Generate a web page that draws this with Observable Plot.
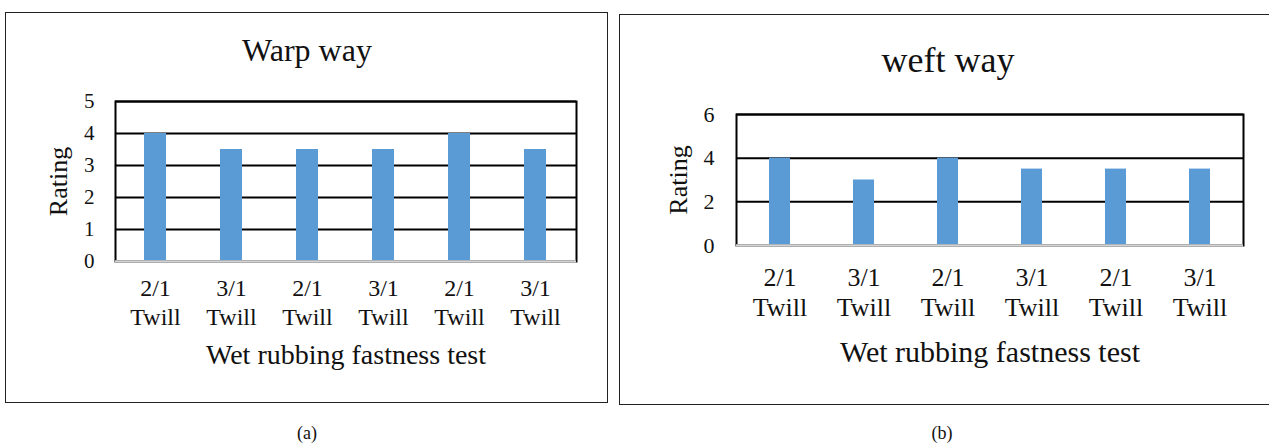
<!DOCTYPE html>
<html>
<head>
<meta charset="utf-8">
<script src="https://cdn.jsdelivr.net/npm/d3@7"></script>
<script src="https://cdn.jsdelivr.net/npm/@observablehq/plot@0.6"></script>
<style>
  html, body { margin: 0; padding: 0; background: #fff; }
  #page { position: relative; width: 1269px; height: 445px; overflow: hidden; font-family: "Liberation Serif", "DejaVu Serif", serif; }
  .border { position: absolute; border: 1.6px solid #222; box-sizing: border-box; }
  .panel { position: absolute; top: 0; }
  .cap { position: absolute; font-size: 18px; transform: translate(-50%, -50%); color: #111; }
</style>
</head>
<body>
<div id="page"></div>
<script>
// ---- data ----
const categories = ["2/1 Twill", "3/1 Twill", "2/1 Twill", "3/1 Twill", "2/1 Twill", "3/1 Twill"];
const warpValues = [4, 3.5, 3.5, 3.5, 4, 3.5];
const weftValues = [4, 3, 4, 3.5, 3.5, 3.5];
const warpTicks = [0, 1, 2, 3, 4, 5];
const weftTicks = [0, 2, 4, 6];
const warpTitle = "Warp way";
const weftTitle = "weft way";
const xLabel = "Wet rubbing fastness test";
const yLabel = "Rating";

const BAR = "#5B9BD5";
const FONT = "Liberation Serif, DejaVu Serif, serif";

function makePanel(cfg) {
  const data = cfg.values.map((v, i) => ({i, v}));
  return Plot.plot({
    width: cfg.width,
    height: 445,
    marginLeft: cfg.ml, marginRight: cfg.mr, marginTop: cfg.mt, marginBottom: cfg.mb,
    style: {fontFamily: FONT, background: "transparent", color: "#111", overflow: "visible"},
    x: {domain: d3.range(categories.length), paddingInner: cfg.pad, paddingOuter: cfg.pad / 2},
    y: {domain: [0, d3.max(cfg.ticks)]},
    marks: [
      Plot.gridY(cfg.ticks, {stroke: "#000", strokeOpacity: 1, strokeWidth: 2}),
      Plot.barY(data, {x: "i", y: "v", fill: BAR}),
      Plot.frame({stroke: "#000", strokeWidth: 2}),
      Plot.ruleY([0], {stroke: "#d4d4d4", strokeWidth: 2.5}),
      Plot.axisY(cfg.ticks, {tickSize: 0, tickPadding: cfg.ytp, fontSize: cfg.tickFont, label: null, fill: "#111"}),
      Plot.axisX({tickSize: 0, tickPadding: cfg.xtp, fontSize: cfg.xtickFont, lineHeight: cfg.lh, label: null,
        tickFormat: i => categories[i].replace(" ", "\n"), fill: "#111"}),
      Plot.text([cfg.title], {frameAnchor: "top", dx: cfg.titleDx, dy: cfg.titleDy, fontSize: cfg.titleFont, textAnchor: "middle", lineAnchor: "middle", fill: "#111"}),
      Plot.text([xLabel], {frameAnchor: "bottom", dy: cfg.xlDy, fontSize: cfg.labelFont, textAnchor: "middle", lineAnchor: "middle", fill: "#111"}),
      Plot.text([yLabel], {frameAnchor: "left", dx: cfg.ylDx, rotate: -90, fontSize: cfg.ylFont, textAnchor: "middle", lineAnchor: "middle", fill: "#111"})
    ]
  });
}

const page = document.getElementById("page");

function addPanel(cfg) {
  const b = document.createElement("div");
  b.className = "border";
  Object.assign(b.style, {left: cfg.bx + "px", top: cfg.by + "px", width: cfg.bw + "px", height: cfg.bh + "px"});
  page.appendChild(b);
  const holder = document.createElement("div");
  holder.className = "panel";
  holder.style.left = cfg.left + "px";
  holder.appendChild(makePanel(cfg));
  page.appendChild(holder);
  const c = document.createElement("div");
  c.className = "cap";
  c.textContent = cfg.cap;
  c.style.left = cfg.capX + "px";
  c.style.top = cfg.capY + "px";
  page.appendChild(c);
}

addPanel({
  values: warpValues, ticks: warpTicks, title: warpTitle, cap: "(a)",
  left: 0, width: 612, ml: 115, mr: 36, mt: 101, mb: 184, pad: 0.71,
  ytp: 21, xtp: 15, tickFont: 21, xtickFont: 24, lh: 1.17,
  titleDx: -39, titleDy: -51, titleFont: 32, labelFont: 28, ylFont: 26, xlDy: 94, ylDx: -57,
  bx: 5, by: 12, bw: 603, bh: 391, capX: 307, capY: 433
});

addPanel({
  values: weftValues, ticks: weftTicks, title: weftTitle, cap: "(b)",
  left: 612, width: 657, ml: 124, mr: 26, mt: 114, mb: 200, pad: 0.75,
  ytp: 22, xtp: 20, tickFont: 22, xtickFont: 26, lh: 1.13,
  titleDx: -42, titleDy: -54, titleFont: 36, labelFont: 30, ylFont: 26, xlDy: 107, ylDx: -58,
  bx: 619, by: 14, bw: 680, bh: 391, capX: 942, capY: 433
});
</script>
</body>
</html>
